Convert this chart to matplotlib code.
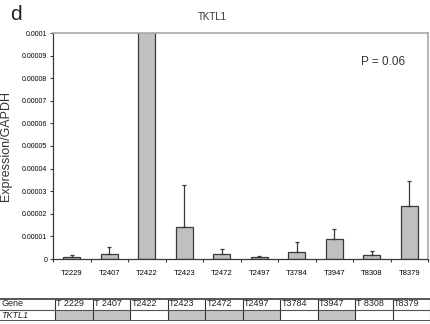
import matplotlib
matplotlib.use("Agg")
import matplotlib.pyplot as plt
from matplotlib.patches import Rectangle
import numpy as np

plt.rcParams['font.family'] = ['Liberation Sans', 'DejaVu Sans']

# data (expression / GAPDH)
samples = ["T2229", "T2407", "T2422", "T2423", "T2472", "T2497", "T3784", "T3947", "T8308", "T8379"]
table_labels = ["T 2229", "T 2407", "T2422", "T2423", "T2472", "T2497", "T3784", "T3947", "T 8308", "T8379"]
means = [0.09e-5, 0.23e-5, 12.0e-5, 1.40e-5, 0.21e-5, 0.09e-5, 0.32e-5, 0.90e-5, 0.16e-5, 2.35e-5]
errors = [0.07e-5, 0.29e-5, 0.0, 1.87e-5, 0.23e-5, 0.03e-5, 0.42e-5, 0.41e-5, 0.21e-5, 1.11e-5]
tktl1_row = [1, 1, 0, 1, 1, 1, 0, 1, 0, 0]   # 1 = grey cell
yticks = [0, 0.00001, 0.00002, 0.00003, 0.00004, 0.00005, 0.00006, 0.00007, 0.00008, 0.00009, 0.0001]
ytick_labels = ["0", "0.00001", "0.00002", "0.00003", "0.00004", "0.00005",
                "0.00006", "0.00007", "0.00008", "0.00009", "0.0001"]

W, H = 430, 324
fig = plt.figure(figsize=(W / 100, H / 100), dpi=100)
ax = fig.add_axes([53 / W, 1 - 259 / H, 375 / W, 226 / H])

x = np.arange(len(samples))
ax.bar(x, means, width=0.45, color="#c0c0c0", edgecolor="#3a3a3a", linewidth=0.9, zorder=2)
ax.errorbar(x, means, yerr=[np.zeros(len(errors)), errors], fmt="none",
            ecolor="#3a3a3a", elinewidth=0.9, capsize=1.5, capthick=0.9, zorder=3)

ax.set_xlim(-0.5, len(samples) - 0.5)
ax.set_ylim(0, 0.0001)
ax.set_yticks(yticks)
ax.set_yticklabels(ytick_labels, fontsize=5)
ax.set_xticks(np.arange(-0.5, len(samples), 1.0))
ax.set_xticklabels([])
ax.set_xticks(x, minor=True)
ax.set_xticklabels(samples, minor=True, fontsize=5.5)
ax.tick_params(axis="x", which="minor", length=0, pad=8)
ax.tick_params(axis="both", which="major", length=2.5, width=0.8, color="#3a3a3a", direction="out")
ax.tick_params(axis="y", pad=1.5)

for side in ["left", "bottom"]:
    ax.spines[side].set_color("#3a3a3a")
    ax.spines[side].set_linewidth(0.9)
for side in ["top", "right"]:
    ax.spines[side].set_color("#a8a8a8")
    ax.spines[side].set_linewidth(1.2)

ax.set_ylabel("Expression/GAPDH", fontsize=9, color="#333333")
ax.yaxis.set_label_coords(-0.11, 0.5)
ax.text(0.94, 0.87, "P = 0.06", transform=ax.transAxes, ha="right", va="center",
        fontsize=8.5, color="#333333")

fig.text(212 / W, 1 - 17 / H, "TKTL1", ha="center", va="center", fontsize=7, color="#333333")
fig.text(10 / W, 1 - 15 / H, "d", ha="left", va="center", fontsize=15, color="#222222")

# table under the chart
tab = fig.add_axes([0, 1 - 321 / H, 1, 23 / H])
tab.set_xlim(0, W)
tab.set_ylim(0, 23)
tab.axis("off")
first_w = 55
col_w = (W - first_w) / len(samples)
row_h = 11
for i, (lab, filled) in enumerate(zip(table_labels, tktl1_row)):
    x0 = first_w + i * col_w
    if filled:
        tab.add_patch(Rectangle((x0, 0.5), col_w, row_h, facecolor="#c4c4c4", edgecolor="none"))
    tab.text(x0 + 1.5, 0.5 + row_h * 1.5, lab, ha="left", va="center", fontsize=6.5, color="#222222")
for xb in [first_w + i * col_w for i in range(len(samples) + 1)]:
    tab.plot([xb, xb], [0.5, 22.5], color="#333333", lw=0.8)
tab.plot([0, W], [22.5, 22.5], color="#555555", lw=1.4)
tab.plot([0, W], [11.5, 11.5], color="#555555", lw=0.8)
tab.plot([0, W], [0.5, 0.5], color="#555555", lw=1.4)
tab.text(1, 0.5 + row_h * 1.5, "Gene", ha="left", va="center", fontsize=6.5, color="#222222")
tab.text(1, 0.5 + row_h * 0.5, "TKTL1", ha="left", va="center", fontsize=6.5,
         color="#222222", style="italic")

fig.savefig("out.png", dpi=100)
